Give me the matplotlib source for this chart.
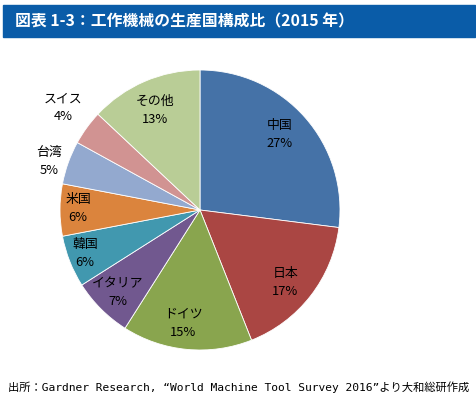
import matplotlib.pyplot as plt
from matplotlib.patches import Rectangle

plt.rcParams['font.family'] = ['Noto Sans CJK JP', 'DejaVu Sans']

# data
countries = ["中国", "日本", "ドイツ", "イタリア", "韓国", "米国", "台湾", "スイス", "その他"]
shares = [27, 17, 15, 7, 6, 6, 5, 4, 13]
colors = ["#4572A7", "#AA4643", "#89A54E", "#71588F", "#4198AF",
          "#DB843D", "#93A9CF", "#D19392", "#B9CD96"]

title = "図表 1-3：工作機械の生産国構成比（2015 年）"
source = "出所：Gardner Research, “World Machine Tool Survey 2016”より大和総研作成"

# label spots, in units of pie radius (Excel "best fit")
label_xy = [(0.57, 0.54), (0.61, -0.52), (-0.12, -0.81), (-0.59, -0.59),
            (-0.82, -0.31), (-0.87, 0.01), (-1.08, 0.35), (-0.98, 0.73),
            (-0.32, 0.71)]

W, H = 477, 397
fig = plt.figure(figsize=(W / 100, H / 100), dpi=100)

# title bar
fig.patches.append(Rectangle((3 / W, 1 - 37 / H), 472 / W, 32 / H,
                             transform=fig.transFigure, color="#0A5CA8", zorder=0))
fig.text(15 / W, 1 - 21 / H, title, color="white", fontsize=11.4,
         fontweight="bold", va="center", ha="left")

# pie: centre (200, 210) px, radius 140 px
cx, cy, r = 200, 210, 140
ax = fig.add_axes([(cx - r) / W, 1 - (cy + r) / H, 2 * r / W, 2 * r / H])
ax.pie(shares, colors=colors, startangle=90, counterclock=False,
       wedgeprops=dict(edgecolor="white", linewidth=0.6))
ax.set_xlim(-1, 1)
ax.set_ylim(-1, 1)
ax.set_aspect("equal")

for name, val, (lx, ly) in zip(countries, shares, label_xy):
    ax.text(lx, ly, f"{name}\n{val}%", ha="center", va="center",
            fontsize=9.3, linespacing=1.5, color="black")

fig.text(8 / W, 1 - 387 / H, source, fontsize=8.1, va="center", ha="left",
         family=["DejaVu Sans Mono", "Noto Sans CJK JP"])

fig.savefig("out.png", dpi=100)
